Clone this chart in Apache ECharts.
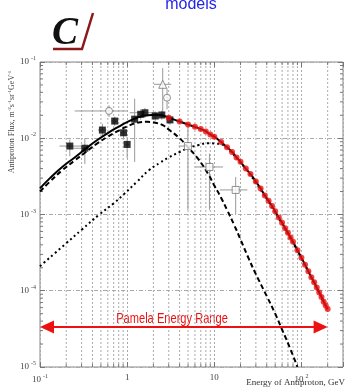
<!DOCTYPE html>
<html lang="en">
<head>
<meta charset="UTF-8" />
<title>Antiproton flux - models</title>
<script src="https://cdn.jsdelivr.net/npm/echarts@6/dist/echarts.min.js"></script>
<style>
  html, body { margin: 0; padding: 0; background: #fff; }
  #container { width: 346px; height: 389px; }
</style>
</head>
<body>
<div id="container"></div>
<script>
// axis ranges and grid values
var xRange = [0.1, 300]
var yRange = [1e-5, 0.1]
var xMinor = [0.2, 0.3, 0.4, 0.5, 0.6, 0.7, 0.8, 0.9, 2, 3, 4, 5, 6, 7, 8, 9, 20, 30, 40, 50, 60, 70, 80, 90, 200]
var yMinor = [2e-5, 3e-5, 4e-5, 5e-5, 6e-5, 7e-5, 8e-5, 9e-5,
  2e-4, 3e-4, 4e-4, 5e-4, 6e-4, 7e-4, 8e-4, 9e-4,
  2e-3, 3e-3, 4e-3, 5e-3, 6e-3, 7e-3, 8e-3, 9e-3,
  0.02, 0.03, 0.04, 0.05, 0.06, 0.07, 0.08, 0.09]

// total model (solid) below 3 GeV, then the red projected points
var solidE = [0.1, 0.13, 0.18, 0.25, 0.33, 0.45, 0.6, 0.8, 1.0, 1.3, 1.7, 2.2, 2.6, 3.0]
var solidFlux = [2.2e-3, 3.0e-3, 4.2e-3, 5.6e-3, 7.2e-3, 9.4e-3, 0.0117, 0.0142, 0.0163, 0.0186, 0.0200, 0.0203, 0.0198, 0.0186]

var redE = [3, 4, 5, 6, 7, 8, 9, 10, 12, 14, 16, 18, 20, 23, 26, 30, 34, 38, 42, 46, 50,
  55, 60, 65, 70, 75, 80, 90, 100, 110, 120, 130, 140, 150, 160, 170, 180, 190, 200]
var redFlux = [0.0186, 0.0166, 0.0151, 0.0141, 0.0132, 0.0123, 0.0112, 0.0105,
  0.0089, 0.0076, 0.0066, 0.0056, 0.0049,
  0.0040, 0.0034, 0.0027, 0.0022, 0.00178, 0.00151, 0.00129, 0.00110,
  9.1e-4, 7.8e-4, 6.6e-4, 5.75e-4, 5.0e-4, 4.4e-4, 3.4e-4,
  2.7e-4, 2.2e-4, 1.8e-4, 1.5e-4, 1.29e-4, 1.10e-4, 9.5e-5, 8.3e-5, 7.2e-5, 6.4e-5, 5.75e-5]

// secondary (dashed) component
var dashedE = [0.1, 0.13, 0.18, 0.25, 0.33, 0.45, 0.6, 0.8, 1.0, 1.3, 1.7, 2.2, 2.6, 3.0,
  4, 5, 6.5, 8.5, 10, 12, 14, 17, 20, 25, 30, 40, 50, 60, 75, 90]
var dashedFlux = [2.0e-3, 2.7e-3, 3.8e-3, 5.1e-3, 6.5e-3, 8.5e-3, 0.0105, 0.0126, 0.0143, 0.0159,
  0.0164, 0.0158, 0.0147, 0.0130,
  0.0100, 7.6e-3, 5.4e-3, 3.4e-3, 2.4e-3, 1.65e-3, 1.15e-3, 7.2e-4, 4.7e-4,
  2.6e-4, 1.65e-4, 8.5e-5, 5.0e-5, 3.1e-5, 1.7e-5, 1.0e-5]

// extra (dotted) component
var dottedE = [0.1, 0.2, 0.3, 0.48, 0.7, 0.92, 1.3, 1.78, 2.4, 3, 4, 5, 6.5, 8.5, 10.5, 13,
  16, 20, 25, 30, 40, 50, 70, 100, 150, 200]
var dottedFlux = [2.1e-4, 4.2e-4, 6.3e-4, 1.0e-3, 1.4e-3, 1.85e-3, 2.7e-3, 3.8e-3, 4.8e-3, 5.6e-3,
  6.6e-3, 7.4e-3, 8.1e-3, 8.6e-3, 8.5e-3, 8.0e-3,
  6.4e-3, 4.8e-3, 3.5e-3, 2.6e-3, 1.6e-3, 1.07e-3, 5.6e-4, 2.65e-4, 1.08e-4, 5.6e-5]

// measurements: [E, flux, Elow, Ehigh, fluxLow, fluxHigh]
var blackSquares = [
  [0.22, 7.9e-3, 0.167, 0.30, 5.8e-3, 9.6e-3],
  [0.327, 7.4e-3, 0.24, 0.42, 4.6e-3, 1.0e-2],
  [0.52, 0.0128, 0.46, 0.58, 0.0105, 0.0155],
  [0.72, 0.0168, 0.66, 0.78, 0.0145, 0.0192],
  [0.91, 0.0118, 0.86, 0.96, 0.0100, 0.0135],
  [1.0, 8.3e-3, 0.96, 1.05, 5.5e-3, 0.0104],
  [1.22, 0.0178, 1.15, 1.3, 4.9e-3, 0.033],
  [1.43, 0.0206, 1.35, 1.5, 0.0175, 0.024],
  [1.6, 0.0216, 1.07, 2.2, 0.0185, 0.025],
  [2.1, 0.0196, 1.95, 2.25, 0.0170, 0.0225],
  [2.5, 0.0202, 2.35, 2.65, 0.0175, 0.023],
  [3.1, 0.0174, 2.9, 3.3, 0.0150, 0.020]
]
var openCircles = [
  [0.62, 0.0228, 0.25, 1.0, 0.019, 0.027],
  [2.87, 0.034, 2.75, 3.0, 0.024, 0.045]
]
var openTriangles = [
  [2.56, 0.051, 2.03, 3.2, 0.019, 0.083]
]
var openSquares = [
  [4.98, 7.9e-3, 3.9, 6.0, 1.15e-3, 0.0145],
  [8.8, 4.2e-3, 6.0, 12.6, 1.15e-3, 6.3e-3],
  [17.6, 2.1e-3, 11.6, 24, 1.0e-3, 3.1e-3]
]

// Pamela energy range annotation
var pamelaRange = [0.1, 200]
var pamelaLevel = 3.35e-5

function pairs(xs, ys) {
  return xs.map(function (x, i) { return [x, ys[i]] })
}

function supLabel(v) {
  var l = Math.log10(v)
  var e = Math.round(l)
  if (Math.abs(l - e) > 0.01) return ''
  return '{b|10}{s|' + e + '}'
}

var labelRich = {
  b: { fontSize: 9, color: '#444', fontFamily: 'Liberation Serif' },
  s: { fontSize: 6, color: '#444', fontFamily: 'Liberation Serif', padding: [0, 0, 7, 2] }
}

function errorBars(params, api) {
  var x = api.value(0), y = api.value(1)
  var pl = api.coord([api.value(2), y]), pr = api.coord([api.value(3), y])
  var pb = api.coord([x, api.value(4)]), pt = api.coord([x, api.value(5)])
  var st = { stroke: '#999', lineWidth: 1 }
  return {
    type: 'group',
    children: [
      { type: 'line', shape: { x1: pl[0], y1: pl[1], x2: pr[0], y2: pr[1] }, style: st },
      { type: 'line', shape: { x1: pb[0], y1: pb[1], x2: pt[0], y2: pt[1] }, style: st }
    ]
  }
}

var myChart = echarts.init(document.querySelector('#container'))

myChart.setOption({
  backgroundColor: '#fff',
  animation: false,
  grid: { left: 40, right: 1, top: 62, bottom: 22, show: true, borderColor: '#888', borderWidth: 1 },
  xAxis: [
    {
      type: 'log', logBase: 10, min: xRange[0], max: xRange[1],
      axisLine: { show: false },
      axisTick: { inside: true, length: 5, lineStyle: { color: '#777' } },
      axisLabel: {
        margin: 6,
        formatter: function (v) {
          if (Math.abs(v - 1) < 1e-6) return '{b|1}'
          if (Math.abs(v - 10) < 1e-6) return '{b|10}'
          return supLabel(v)
        },
        rich: labelRich
      },
      splitLine: { show: true, lineStyle: { color: '#aaa', type: [2, 2] } }
    },
    {
      type: 'log', logBase: 10, min: xRange[0], max: xRange[1], position: 'top',
      axisLine: { show: false },
      axisTick: { inside: true, length: 5, lineStyle: { color: '#777' } },
      axisLabel: { show: false },
      splitLine: { show: false }
    }
  ],
  yAxis: [
    {
      type: 'log', logBase: 10, min: yRange[0], max: yRange[1],
      axisLine: { show: false },
      axisTick: { inside: true, length: 5, lineStyle: { color: '#777' } },
      axisLabel: { margin: 4, formatter: supLabel, rich: labelRich },
      splitLine: { show: true, lineStyle: { color: '#aaa', type: [4, 2, 1, 2] } }
    },
    {
      type: 'log', logBase: 10, min: yRange[0], max: yRange[1], position: 'right',
      axisLine: { show: false },
      axisTick: { inside: true, length: 5, lineStyle: { color: '#777' } },
      axisLabel: { show: false },
      splitLine: { show: false }
    }
  ],
  graphic: [
    {
      type: 'text', x: 191, y: 13,
      style: { text: 'models', fill: '#2525e8', font: '16px "Liberation Sans", Arial, sans-serif', textAlign: 'center', textVerticalAlign: 'bottom' }
    },
    {
      type: 'text', x: 65, y: 34,
      style: { text: 'C', fill: '#111', font: 'italic bold 39px "Liberation Serif", serif', textAlign: 'center', textVerticalAlign: 'middle' }
    },
    {
      type: 'polyline',
      shape: { points: [[53, 49], [82, 49], [93, 13]] },
      style: { stroke: '#8b1a1a', lineWidth: 2.5, fill: null }
    },
    {
      type: 'text', x: 12, y: 122, rotation: Math.PI / 2,
      style: {
        text: 'Antiproton Flux, m{s|-2}s{s|-1}sr{s|-1}GeV{s|-1}',
        fill: '#444', font: '8px "Liberation Serif", serif',
        textAlign: 'center', textVerticalAlign: 'middle',
        rich: { s: { fontSize: 5, fill: '#444', fontFamily: 'Liberation Serif', padding: [0, 0, 5, 0] } }
      }
    },
    {
      type: 'text', x: 345, y: 383,
      style: { text: 'Energy of Antiproton, GeV', fill: '#333', font: '9px "Liberation Serif", serif', textAlign: 'right', textVerticalAlign: 'middle' }
    },
    {
      type: 'text', x: 172, y: 319, scaleX: 0.74,
      style: { text: 'Pamela Energy Range', fill: '#ee1111', font: '15px "Liberation Sans", Arial, sans-serif', textAlign: 'center', textVerticalAlign: 'middle' }
    }
  ],
  series: [
    {
      // minor vertical grid lines and ticks
      type: 'custom', silent: true, z: 1,
      data: xMinor.map(function (v) { return [v, 1e-3] }),
      renderItem: function (params, api) {
        var v = api.value(0)
        var top = api.coord([v, yRange[1]]), bot = api.coord([v, yRange[0]])
        var tick = { stroke: '#777', lineWidth: 1 }
        return {
          type: 'group',
          children: [
            { type: 'line', shape: { x1: top[0], y1: top[1], x2: bot[0], y2: bot[1] }, style: { stroke: '#aaa', lineWidth: 1, lineDash: [2, 2] } },
            { type: 'line', shape: { x1: bot[0], y1: bot[1], x2: bot[0], y2: bot[1] - 3 }, style: tick },
            { type: 'line', shape: { x1: top[0], y1: top[1], x2: top[0], y2: top[1] + 3 }, style: tick }
          ]
        }
      }
    },
    {
      // minor y ticks on both sides
      type: 'custom', silent: true, z: 1,
      data: yMinor.map(function (v) { return [1, v] }),
      renderItem: function (params, api) {
        var v = api.value(1)
        var l = api.coord([xRange[0], v]), r = api.coord([xRange[1], v])
        var tick = { stroke: '#777', lineWidth: 1 }
        return {
          type: 'group',
          children: [
            { type: 'line', shape: { x1: l[0], y1: l[1], x2: l[0] + 3, y2: l[1] }, style: tick },
            { type: 'line', shape: { x1: r[0], y1: r[1], x2: r[0] - 3, y2: r[1] }, style: tick }
          ]
        }
      }
    },
    { type: 'custom', z: 3, silent: true, data: blackSquares, renderItem: errorBars },
    { type: 'custom', z: 3, silent: true, data: openCircles, renderItem: errorBars },
    { type: 'custom', z: 3, silent: true, data: openTriangles, renderItem: errorBars },
    { type: 'custom', z: 3, silent: true, data: openSquares, renderItem: errorBars },
    {
      type: 'line', z: 4, data: pairs(dottedE, dottedFlux), showSymbol: false, smooth: true,
      lineStyle: { color: '#000', width: 2, type: [2, 3] }
    },
    {
      type: 'line', z: 4, data: pairs(dashedE, dashedFlux), showSymbol: false, smooth: true,
      lineStyle: { color: '#000', width: 2, type: [5, 3] }
    },
    {
      type: 'line', z: 5, data: pairs(solidE, solidFlux).concat(pairs(redE, redFlux).slice(1)), showSymbol: false, smooth: true,
      lineStyle: { color: '#000', width: 2 }
    },
    {
      type: 'scatter', z: 6, data: blackSquares.map(function (d) { return [d[0], d[1]] }),
      symbol: 'rect', symbolSize: 7, itemStyle: { color: '#000' }
    },
    {
      type: 'scatter', z: 6, data: openCircles.map(function (d) { return [d[0], d[1]] }),
      symbol: 'circle', symbolSize: 7, itemStyle: { color: '#fff', borderColor: '#777', borderWidth: 1 }
    },
    {
      type: 'scatter', z: 6, data: openTriangles.map(function (d) { return [d[0], d[1]] }),
      symbol: 'triangle', symbolSize: 8, itemStyle: { color: '#fff', borderColor: '#777', borderWidth: 1 }
    },
    {
      type: 'scatter', z: 6, data: openSquares.map(function (d) { return [d[0], d[1]] }),
      symbol: 'rect', symbolSize: 7, itemStyle: { color: '#fff', borderColor: '#777', borderWidth: 1 }
    },
    {
      type: 'scatter', z: 7, data: pairs(redE, redFlux),
      symbol: 'circle', symbolSize: 6, itemStyle: { color: '#f01010' }
    },
    {
      // double-headed arrow for the Pamela range
      type: 'custom', z: 7, silent: true,
      data: [[pamelaRange[0], pamelaLevel, pamelaRange[1]]],
      renderItem: function (params, api) {
        var a = api.coord([api.value(0), api.value(1)])
        var b = api.coord([api.value(2), api.value(1)])
        var red = '#ee1111'
        return {
          type: 'group',
          children: [
            { type: 'line', shape: { x1: a[0] + 10, y1: a[1], x2: b[0] - 10, y2: b[1] }, style: { stroke: red, lineWidth: 2 } },
            { type: 'polygon', shape: { points: [[a[0], a[1]], [a[0] + 14, a[1] - 6.5], [a[0] + 14, a[1] + 6.5]] }, style: { fill: red } },
            { type: 'polygon', shape: { points: [[b[0], b[1]], [b[0] - 14, b[1] - 6.5], [b[0] - 14, b[1] + 6.5]] }, style: { fill: red } }
          ]
        }
      },
      clip: false
    }
  ]
})
</script>
</body>
</html>
